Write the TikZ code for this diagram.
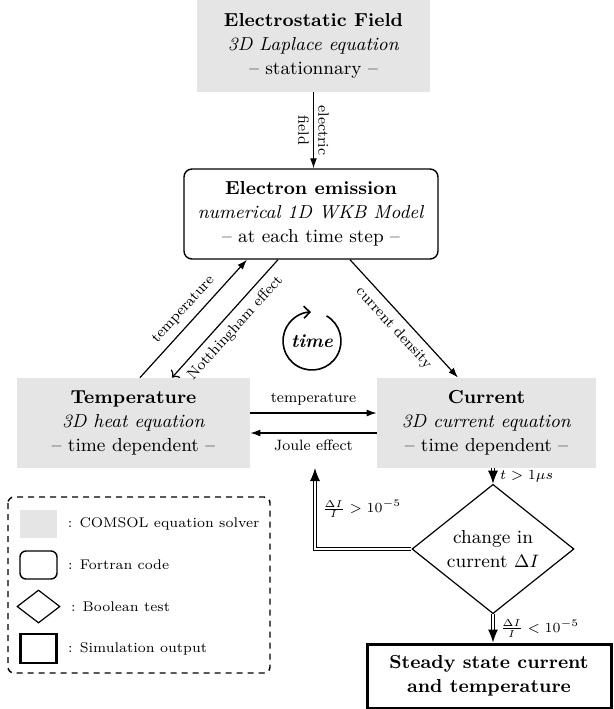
\documentclass[tikz,border=0pt]{standalone}
\usepackage{tikz}
\usetikzlibrary{arrows.meta, shapes.geometric, positioning}
\newcommand{\boxfont}{\fontsize{9.4}{12}\selectfont}
\newcommand{\labelfont}{\fontsize{7.5}{9}\selectfont}
\tikzset{solver/.style={fill=black!10, inner sep=0pt, minimum height=45pt, align=center, font=\boxfont}}
\tikzset{fortran/.style={draw, rounded corners=4pt, line width=0.7pt, inner sep=0pt, align=center, font=\boxfont}}
\tikzset{testbox/.style={draw, diamond, line width=0.6pt, inner sep=0pt, align=center, font=\boxfont}}
\tikzset{outbox/.style={draw, line width=1.5pt, inner sep=0pt, align=center, font=\boxfont\bfseries}}
\tikzset{link/.style={line width=0.6pt, -{Latex[length=5pt, width=3.5pt]}}}
\tikzset{testlink/.style={double, double distance=1pt, line width=0.5pt, -{Latex[length=6.5pt, width=5pt]}}}
\tikzset{legend text/.style={font=\fontsize{7}{9}\selectfont, inner sep=2pt}}

\begin{document}
\begin{tikzpicture}[x=0.5pt, y=-0.5pt]
    \useasboundingbox (0,0) rectangle (614,709);
    % solvers and codes
    \node[solver, minimum width=116.5pt, minimum height=46pt] (field) at (313.5,46) {\textbf{Electrostatic Field}\\\textit{3D Laplace equation}\\-- stationnary --};
    \node[fortran, minimum width=127pt, minimum height=45pt] (emis) at (311,214) {\textbf{Electron emission}\\\textit{numerical 1D WKB Model}\\-- at each time step --};
    \node[solver, minimum width=116.5pt] (temp) at (133.5,423) {\textbf{Temperature}\\\textit{3D heat equation}\\-- time dependent --};
    \node[solver, minimum width=109.5pt] (curr) at (486.5,423) {\textbf{Current}\\\textit{3D current equation}\\-- time dependent --};
    \node[testbox, minimum width=81pt, minimum height=54pt] (diam) at (493,549) {change in\\current $\Delta I$};
    \node[outbox, minimum width=122pt, minimum height=32pt] (out) at (489,676) {Steady state current\\and temperature};
    \node[font=\boxfont\bfseries\itshape] (time) at (312,341) {time};
    \draw[line width=0.8pt, -{Straight Barb[length=3pt, width=6pt]}] (time.center) ++(60:14.5pt) arc[start angle=60, end angle=-268, radius=14.5pt];

    % couplings
    \draw[link] (field.south) -- (field.south |- emis.north) node[midway, rotate=-90, font=\labelfont, align=center] {electric\\[1pt]field};
    \draw[link] ([xshift=3.25pt]temp.north) -- ([xshift=-32pt]emis.south) node[midway, sloped, above, font=\labelfont] {temperature};
    \draw[link, <-] ([xshift=19.25pt]temp.north) -- ([xshift=-16.5pt]emis.south) node[midway, sloped, below, font=\labelfont] {Notthingham effect};
    \draw[link] ([xshift=19.5pt]emis.south) -- ([xshift=-14.25pt]curr.north) node[midway, sloped, below, font=\labelfont] {current density};
    \draw[link] ([yshift=5pt]temp.east) -- ([yshift=5pt]curr.west) node[midway, above, font=\labelfont] {temperature};
    \draw[link] ([yshift=-5pt]curr.west) -- ([yshift=-5pt]temp.east) node[midway, below, font=\labelfont] {Joule effect};

    % convergence test
    \coordinate (back) at (315,468);
    \draw[testlink] (curr.south -| diam.north) -- (diam.north) node[midway, right, font=\labelfont] {$t > 1\mu s$};
    \draw[testlink] (diam.west) -| (back) node[pos=0.75, right, font=\labelfont] {$\frac{\Delta I}{I} > 10^{-5}$};
    \draw[testlink] (diam.south) -- (diam.south |- out.north) node[midway, right, font=\labelfont] {$\frac{\Delta I}{I} < 10^{-5}$};

    % legend
    \draw[dashed, dash pattern=on 3pt off 2.5pt, line width=0.7pt, rounded corners=3pt] (8,497) rectangle (270,673);
    \node[solver, minimum width=18.5pt, minimum height=14pt] (keysolver) at (38.5,523.5) {};
    \node[fortran, minimum width=18.5pt, minimum height=14pt, rounded corners=3pt] (keyfortran) at (38.5,565) {};
    \node[testbox, minimum width=21.5pt, minimum height=16.5pt] (keytest) at (38.5,606.5) {};
    \node[outbox, minimum width=18pt, minimum height=14.5pt, line width=1.2pt] (keyout) at (38.5,648.5) {};
    \node[legend text, right=3pt of keysolver] {: COMSOL equation solver};
    \node[legend text, right=3pt of keyfortran] {: Fortran code};
    \node[legend text, right=3pt of keytest] {: Boolean test};
    \node[legend text, right=3pt of keyout] {: Simulation output};
\end{tikzpicture}
\end{document}
